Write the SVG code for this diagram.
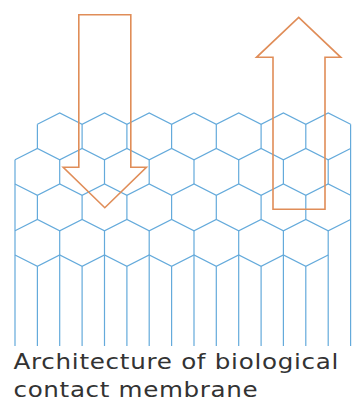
<svg xmlns="http://www.w3.org/2000/svg" width="352" height="409" viewBox="0 0 352 409">
  <style>
    .cell { fill: none; stroke: #64aadb; stroke-width: 1.2; stroke-linejoin: miter; }
    .flow { fill: none; stroke: #e08d58; stroke-width: 1.6; stroke-linejoin: miter; }
    .caption { font-family: "DejaVu Sans", "Liberation Sans", sans-serif; font-size: 20.5px; fill: #333333; }
  </style>
  <rect width="352" height="409" fill="#ffffff"/>

  <!-- honeycomb membrane: zigzag row boundaries, cell walls, and columnar stems -->
  <g id="honeycomb" class="cell">
    <path d="M37.4,124.3 L59.7,113 L82.1,124.3 L104.5,113 L126.9,124.3 L149.2,113 L171.6,124.3 L194,113 L216.3,124.3 L238.7,113 L261.1,124.3 L283.4,113 L305.8,124.3 L328.2,113 L350.6,124.3"/>
    <path d="M15,159.8 L37.4,148.5 L59.7,159.8 L82.1,148.5 L104.5,159.8 L126.9,148.5 L149.2,159.8 L171.6,148.5 L194,159.8 L216.3,148.5 L238.7,159.8 L261.1,148.5 L283.4,159.8 L305.8,148.5 L328.2,159.8 L350.6,148.5"/>
    <path d="M15,184 L37.4,195.3 L59.7,184 L82.1,195.3 L104.5,184 L126.9,195.3 L149.2,184 L171.6,195.3 L194,184 L216.3,195.3 L238.7,184 L261.1,195.3 L283.4,184 L305.8,195.3 L328.2,184 L350.6,195.3"/>
    <path d="M15,230.8 L37.4,219.5 L59.7,230.8 L82.1,219.5 L104.5,230.8 L126.9,219.5 L149.2,230.8 L171.6,219.5 L194,230.8 L216.3,219.5 L238.7,230.8 L261.1,219.5 L283.4,230.8 L305.8,219.5 L328.2,230.8 L350.6,219.5"/>
    <path d="M15,255 L37.4,266.3 L59.7,255 L82.1,266.3 L104.5,255 L126.9,266.3 L149.2,255 L171.6,266.3 L194,255 L216.3,266.3 L238.7,255 L261.1,266.3 L283.4,255 L305.8,266.3 L328.2,255"/>
    <!-- row 1 walls -->
    <path d="M37.4,124.3V148.5 M82.1,124.3V148.5 M126.9,124.3V148.5 M171.6,124.3V148.5 M216.3,124.3V148.5 M261.1,124.3V148.5 M305.8,124.3V148.5"/>
    <!-- row 2 walls -->
    <path d="M59.7,159.8V184 M104.5,159.8V184 M149.2,159.8V184 M194,159.8V184 M238.7,159.8V184 M283.4,159.8V184 M328.2,159.8V184"/>
    <!-- row 3 walls -->
    <path d="M37.4,195.3V219.5 M82.1,195.3V219.5 M126.9,195.3V219.5 M171.6,195.3V219.5 M216.3,195.3V219.5 M261.1,195.3V219.5 M305.8,195.3V219.5"/>
    <!-- row 4 walls running into the stems -->
    <path d="M59.7,230.8V346 M104.5,230.8V346 M149.2,230.8V346 M194,230.8V346 M238.7,230.8V346 M283.4,230.8V346 M328.2,230.8V346"/>
    <path d="M37.4,266.3V346 M82.1,266.3V346 M126.9,266.3V346 M171.6,266.3V346 M216.3,266.3V346 M261.1,266.3V346 M305.8,266.3V346"/>
    <!-- outer edges -->
    <path d="M15,159.8V346 M350.6,124.3V346"/>
  </g>

  <!-- inward flow arrow -->
  <g id="arrow-in">
    <path class="flow" d="M78.8,14.7 H130.8 V167.3 H146.4 L104.8,207.7 L63.2,167.3 H78.8 Z"/>
  </g>

  <!-- outward flow arrow -->
  <g id="arrow-out">
    <path class="flow" d="M273,209.3 V57.3 H256.5 L298.7,17.3 L340.8,57.3 H325 V209.3 Z"/>
  </g>

  <!-- caption, set in a widened face -->
  <g id="caption" transform="scale(1.2,1)">
    <text class="caption" x="11.25" y="369" textLength="270.8" lengthAdjust="spacing">Architecture of biological</text>
    <text class="caption" x="11.25" y="396.7" textLength="203.5" lengthAdjust="spacing">contact membrane</text>
  </g>
</svg>
